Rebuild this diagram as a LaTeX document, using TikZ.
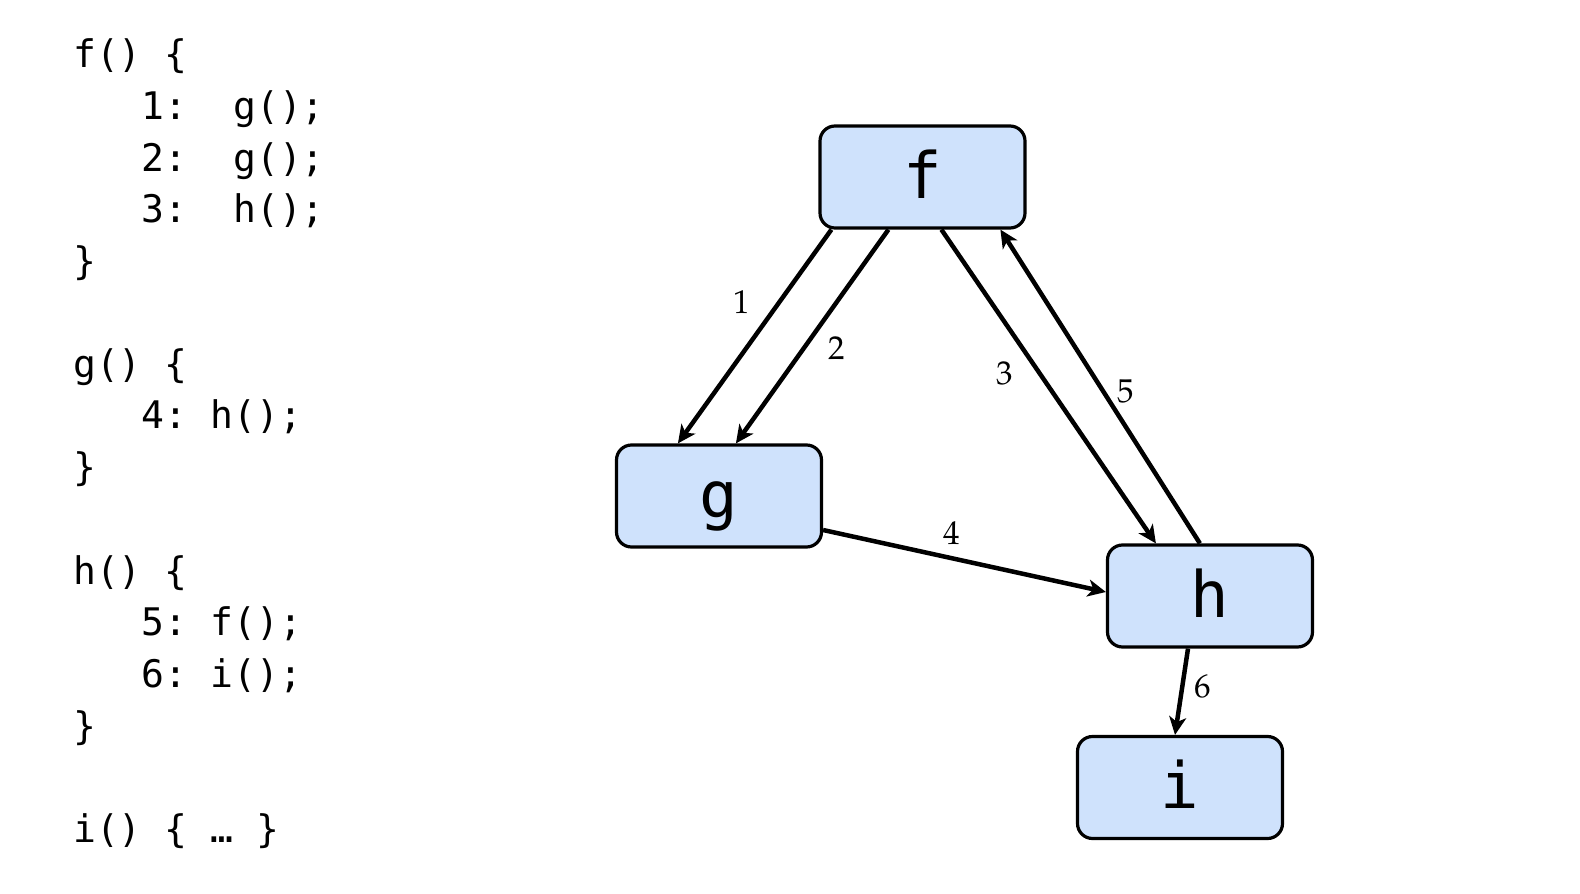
\documentclass[tikz,border=0pt]{standalone}
\usepackage{fontspec}
\newfontfamily\codefont{DejaVu Sans Mono}
\newfontfamily\lblfont{TeX Gyre Pagella}
\usetikzlibrary{arrows.meta,calc}
\definecolor{boxfill}{RGB}{207,226,252}
\tikzset{
  fbox/.style={draw=black, line width=3.2pt, fill=boxfill, rounded corners=15pt,
    minimum width=205pt, minimum height=102pt, inner sep=0pt,
    text height=42pt, text depth=0pt, font=\codefont\fontsize{64}{64}\selectfont},
  codeline/.style={anchor=base west, inner sep=0pt, font=\codefont\fontsize{38}{46}\selectfont},
  call/.style={line width=4.5pt, -{Stealth[length=18pt, width=17pt, inset=5pt]}},
  lbl/.style={inner sep=0pt, font=\lblfont\fontsize{33}{33}\selectfont}
}
\begin{document}
\begin{tikzpicture}[x=1pt, y=-1pt]
\useasboundingbox (0,0) rectangle (1580,894);
% code listing
\node[codeline] (c0)  at (73,67)  {f()\ \{};
\node[codeline] (c1)  at (73,119) {\ \ \ 1:\ \ g();};
\node[codeline] (c2)  at (73,171) {\ \ \ 2:\ \ g();};
\node[codeline] (c3)  at (73,222) {\ \ \ 3:\ \ h();};
\node[codeline] (c4)  at (73,274) {\}};
\node[codeline] (c6)  at (73,377) {g()\ \{};
\node[codeline] (c7)  at (73,428) {\ \ \ 4:\ h();};
\node[codeline] (c8)  at (73,480) {\}};
\node[codeline] (c10) at (73,584) {h()\ \{};
\node[codeline] (c11) at (73,635) {\ \ \ 5:\ f();};
\node[codeline] (c12) at (73,687) {\ \ \ 6:\ i();};
\node[codeline] (c13) at (73,739) {\}};
\node[codeline] (c15) at (73,842) {i()\ \{\ …\ \}};
% graph nodes
\node[fbox] (f) at (922.5,177) {f};
\node[fbox] (g) at (719,496) {g};
\node[fbox] (h) at (1210,596) {h};
\node[fbox] (i) at (1180,787.5) {i};
% connectors
\draw[call] ($(f.south west)+(13,0)$)  -- ($(g.north west)+(63,0)$);
\draw[call] ($(f.south west)+(70,0)$)  -- ($(g.north west)+(121,0)$);
\draw[call] ($(f.south west)+(123,0)$) -- ($(h.north west)+(50,0)$);
\draw[call] ($(h.north west)+(94,0)$)  -- ($(f.south west)+(182,0)$);
\draw[call] ($(g.east)+(0,34)$)        -- ($(h.west)+(0,-4)$);
\draw[call] ($(h.south)+(-22,0)$)      -- ($(i.north)+(-5,0)$);
% labels
\node[lbl] (l1) at (742,302) {1};
\node[lbl] (l2) at (837,348) {2};
\node[lbl] (l3) at (1005,373) {3};
\node[lbl] (l4) at (952,533) {4};
\node[lbl] (l5) at (1126,391) {5};
\node[lbl] (l6) at (1203,686) {6};
\end{tikzpicture}
\end{document}
